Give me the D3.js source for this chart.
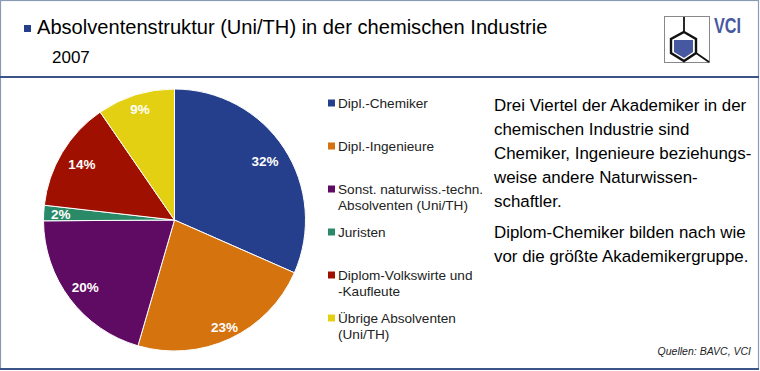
<!DOCTYPE html>
<html>
<head>
<meta charset="utf-8">
<script src="https://cdn.jsdelivr.net/npm/d3@7"></script>
<style>
  html, body { margin: 0; padding: 0; background: #fff; }
  text { font-family: "Liberation Sans", Arial, sans-serif; }
</style>
</head>
<body>
<div id="container"></div>
<script>
/* DATA */
const categories = ["Dipl.-Chemiker", "Dipl.-Ingenieure", "Sonst. naturwiss.-techn.", "Juristen", "Diplom-Volkswirte und", "Übrige Absolventen"];
const secondLines = ["", "", "Absolventen (Uni/TH)", "", "-Kaufleute", "(Uni/TH)"];
/* slice sizes, the printed labels are rounded */
const shares = [31.6, 22.9, 20.4, 1.9, 13.6, 9.6];
const labels = ["32%", "23%", "20%", "2%", "14%", "9%"];
const colors = ["#263f8c", "#d5730f", "#5f0a63", "#2a8a68", "#a01000", "#e4d013"];
const bodyLines = [
  "Drei Viertel der Akademiker in der",
  "chemischen Industrie sind",
  "Chemiker, Ingenieure beziehungs-",
  "weise andere Naturwissen-",
  "schaftler."
];
const bodyLines2 = [
  "Diplom-Chemiker bilden nach wie",
  "vor die größte Akademikergruppe."
];

const width = 760, height = 371;
/* label distance from the centre, slice by slice, the original is not regular */
const labelRadius = [108, 118, 112, 114, 108, 116];

const svg = d3.select("#container")
  .append("svg")
  .attr("width", width)
  .attr("height", height)
  .style("display", "block");

/* FRAME */
svg.append("rect")
  .attr("x", 0.5).attr("y", 0.5)
  .attr("width", 758).attr("height", 368.5)
  .attr("fill", "#fff")
  .attr("stroke", "#8a9ab5")
  .attr("stroke-width", 1.2);
svg.append("line")
  .attr("x1", 0).attr("x2", 759)
  .attr("y1", 77).attr("y2", 77)
  .attr("stroke", "#3c5488")
  .attr("stroke-width", 2);
svg.append("line")
  .attr("x1", 0).attr("x2", 759)
  .attr("y1", 369).attr("y2", 369)
  .attr("stroke", "#3c5488")
  .attr("stroke-width", 2);

/* TITLE */
svg.append("rect")
  .attr("x", 24).attr("y", 25).attr("width", 7).attr("height", 7)
  .attr("fill", "#263f8c");
svg.append("text")
  .attr("x", 37).attr("y", 34)
  .attr("font-size", 20.1)
  .text("Absolventenstruktur (Uni/TH) in der chemischen Industrie");
svg.append("text")
  .attr("x", 52).attr("y", 63)
  .attr("font-size", 17)
  .text("2007");

/* PIE */
const pie = d3.pie().sort(null)(shares);
const arc = d3.arc().innerRadius(0).outerRadius(131);

const pieG = svg.append("g").attr("transform", "translate(174.5,220)");

pieG.selectAll("path")
  .data(pie)
  .join("path")
  .attr("d", arc)
  .attr("fill", (d, i) => colors[i])
  .attr("stroke", "#fff")
  .attr("stroke-width", 1);

pieG.selectAll("text")
  .data(pie)
  .join("text")
  .attr("transform", (d, i) => "translate(" + d3.arc().innerRadius(labelRadius[i]).outerRadius(labelRadius[i]).centroid(d) + ")")
  .attr("text-anchor", "middle")
  .attr("dy", "0.35em")
  .attr("font-size", 13.5)
  .attr("font-weight", "bold")
  .attr("fill", "#fff")
  .text((d, i) => labels[i]);

/* LEGEND */
const legend = svg.selectAll(".legend")
  .data(categories)
  .join("g")
  .attr("class", "legend")
  .attr("transform", (d, i) => "translate(328," + (103 + i * 43) + ")");

legend.append("rect")
  .attr("x", 0).attr("y", -3.5)
  .attr("width", 7).attr("height", 7)
  .attr("fill", (d, i) => colors[i]);
legend.append("text")
  .attr("x", 10).attr("y", 5)
  .attr("font-size", 13.6)
  .attr("fill", "#222")
  .text(d => d);
legend.append("text")
  .attr("x", 10).attr("y", 21)
  .attr("font-size", 13.6)
  .attr("fill", "#222")
  .text((d, i) => secondLines[i]);

/* BODY TEXT */
svg.selectAll(".body1")
  .data(bodyLines)
  .join("text")
  .attr("class", "body1")
  .attr("x", 494)
  .attr("y", (d, i) => 111 + i * 24)
  .attr("font-size", 16.9)
  .text(d => d);
svg.selectAll(".body2")
  .data(bodyLines2)
  .join("text")
  .attr("class", "body2")
  .attr("x", 494)
  .attr("y", (d, i) => 238 + i * 24)
  .attr("font-size", 16.9)
  .text(d => d);

svg.append("text")
  .attr("x", 751).attr("y", 355)
  .attr("text-anchor", "end")
  .attr("font-size", 10.5)
  .attr("font-style", "italic")
  .attr("fill", "#222")
  .text("Quellen: BAVC, VCI");

/* LOGO */
const logo = svg.append("g");
logo.append("rect")
  .attr("x", 664.5).attr("y", 16.5)
  .attr("width", 45).attr("height", 46)
  .attr("fill", "#fff")
  .attr("stroke", "#888");
const hex = [[684, 32], [696, 39], [696, 53], [684, 61], [671, 53], [671, 39]];
logo.append("polygon")
  .attr("points", hex.join(" "))
  .attr("fill", "#fff")
  .attr("stroke", "#111")
  .attr("stroke-width", 2.4);
logo.append("polygon")
  .attr("points", "674,40 693,40 693,52 684,58 674,52")
  .attr("fill", "#46589f");
logo.append("line")
  .attr("x1", 684).attr("y1", 17).attr("x2", 684).attr("y2", 32)
  .attr("stroke", "#111").attr("stroke-width", 1.8);
logo.append("line")
  .attr("x1", 696).attr("y1", 53).attr("x2", 709).attr("y2", 62)
  .attr("stroke", "#111").attr("stroke-width", 1.8);
logo.append("text")
  .attr("x", 714).attr("y", 33)
  .attr("font-size", 22)
  .attr("font-weight", "bold")
  .attr("fill", "#46589f")
  .attr("textLength", 27)
  .attr("lengthAdjust", "spacingAndGlyphs")
  .text("VCI");
</script>
</body>
</html>
